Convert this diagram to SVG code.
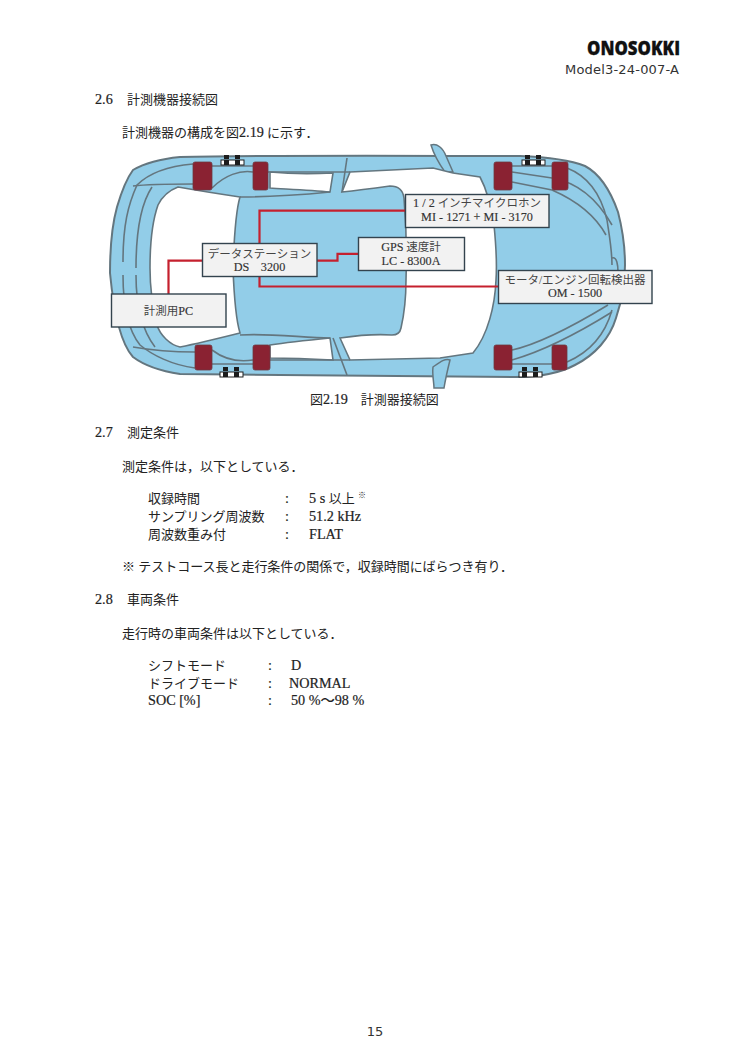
<svg xmlns="http://www.w3.org/2000/svg" width="750" height="1063" viewBox="0 0 750 1063">
<style>
text{font-family:"Liberation Serif","Noto Sans CJK JP",serif;font-size:13px;fill:#222}
.l{font-size:14.2px;stroke:#222;stroke-width:.2}
.box{fill:#f2f2f2;stroke:#33434e;stroke-width:1.4}
.lbl{font-size:11.5px;fill:#444;text-anchor:middle}
.m{font-size:12.2px;fill:#333;stroke:#333;stroke-width:.15}
.red{fill:none;stroke:#c5202e;stroke-width:2.2}
.ln{fill:none;stroke:#64767f;stroke-width:1.6}
.win{fill:#fff;stroke:#64767f;stroke-width:1.6}
.whl{fill:#8a2030;stroke:#6d3a42;stroke-width:.8}
.hub{fill:#fff;stroke:#222;stroke-width:1}
.dot{fill:#1a1a1a}
.mir{fill:#92cde8;stroke:#64767f;stroke-width:1.5}
.sans{font-family:"DejaVu Sans",sans-serif}
.logo{font-family:"Open Sans","DejaVu Sans",sans-serif;font-weight:800;font-size:19px;fill:#111;stroke:#111;stroke-width:.3}
</style>
<defs>
<filter id="soft" x="-5%" y="-5%" width="110%" height="110%"><feGaussianBlur stdDeviation="0.6"/></filter>
<g id="hubset"><rect class="hub" x="0" y="5" width="23" height="5"/><rect class="dot" x="3" y="0" width="5" height="4"/><rect class="dot" x="14" y="0" width="5" height="4"/><rect class="dot" x="3" y="5" width="5" height="5"/><rect class="dot" x="14" y="5" width="5" height="5"/></g>
</defs>

<g id="logo">
<text class="logo" x="587" y="55" textLength="93" lengthAdjust="spacingAndGlyphs">ONOSOKKI</text>
</g>
<text class="sans" x="565" y="74" style="font-size:13px;fill:#333" textLength="114">Model3-24-007-A</text>

<text class="l" x="95" y="104">2.6</text><text x="127" y="104">計測機器接続図</text>
<text x="122" y="137">計測機器の構成を図<tspan class="l">2.19</tspan> に示す．</text>

<g id="car" filter="url(#soft)">
<path d="M180 157 C260 155 440 156 520 156 C545 157 570 160 585 166 C602 175 612 195 618 212 C624 235 625 250 625 265 C625 285 622 300 616 318 C610 338 595 355 575 365 C560 373 540 377 515 377 L180 374 C160 371 145 366 133 357 C122 345 114 315 110 273 C110 245 112 225 117 207 C122 190 127 178 133 170 C145 163 160 159 180 157 Z" fill="#92cde8" stroke="#64767f" stroke-width="2"/>
<path class="mir" d="M431 145 C437 143 443 148 446 156 L453 172 L445 172 C440 165 434 155 431 145 Z"/>
<path class="win" d="M178 187 C195 190 220 194 240 197 C236 210 234 240 233 268 C234 295 236 320 240 333 C220 338 200 343 180 347 C170 345 160 335 157 325 C152 305 150 285 150 268 C150 245 152 222 158 205 C163 195 170 190 178 187 Z"/>
<path class="win" d="M350 172 L433 168 L453 173 L480 177 C487 190 491 205 494 225 C496 245 497 265 496 280 C495 305 488 335 473 353 L440 358 L350 360 L340 338 C360 335 378 334 392 335 C397 335 400 333 401 328 C404 315 406 300 406 280 C407 250 406 222 404 198 C403 190 398 186 390 186 C375 188 360 190 342 192 Z"/>
<path class="win" d="M270 172 C290 174 315 174 333 173 L330 192 C310 190 285 189 270 188 Z"/>
<path class="win" d="M270 345 C290 342 310 340 330 338 L333 360 C315 359 290 358 270 358 Z"/>
<path class="mir" d="M433 367 C440 362 445 358 450 360 C447 372 445 382 444 388 L434 388 C434 382 432 375 433 367 Z"/>
<path class="ln" d="M240 197 C275 197 310 194 330 192"/>
<path class="ln" d="M240 335 C270 333 305 338 330 338"/>
<path class="ln" d="M123 262 C123 225 128 205 137 185 C150 172 170 166 193 164"/>
<path class="ln" d="M136 268 C136 235 140 205 152 187"/>
<path class="ln" d="M133 186 C150 184 175 184 193 184"/>
<path class="ln" d="M123 275 C123 305 128 330 140 345 C152 355 172 365 195 368"/>
<path class="ln" d="M136 275 C136 305 142 330 155 347"/>
<path class="ln" d="M133 347 C150 350 175 352 195 352"/>
<path class="ln" d="M347 158 L342 192"/>
<path class="ln" d="M333 338 L347 375"/>
<path class="ln" d="M268 172 L350 172"/>
<path class="ln" d="M268 360 L350 360"/>
<path class="ln" d="M212 166 L253 166 M212 188 C225 175 240 170 253 172"/>
<path class="ln" d="M212 350 C225 360 240 362 253 360 M212 364 L253 364"/>
<path class="ln" d="M512 166 L552 166 M512 172 L552 178 C575 182 595 195 612 225"/>
<path class="ln" d="M512 182 L552 190 C575 200 595 215 606 235"/>
<path class="ln" d="M567 168 C585 175 600 190 607 220 C610 240 612 250 612 265"/>
<path class="ln" d="M512 350 C535 345 570 328 608 305"/>
<path class="ln" d="M512 360 C540 352 575 335 612 312 M512 364 L552 364"/>
<path class="ln" d="M567 362 C590 352 605 335 612 310"/>
<path class="ln" d="M612 258 C617 256 618 266 618 272"/>
<g id="wheels">
<rect class="whl" x="193" y="162" width="19" height="28" rx="2"/>
<rect class="whl" x="253" y="162" width="15" height="28" rx="2"/>
<rect class="whl" x="195" y="345" width="17" height="25" rx="2"/>
<rect class="whl" x="253" y="345" width="17" height="25" rx="2"/>
<rect class="whl" x="494" y="162" width="18" height="28" rx="2"/>
<rect class="whl" x="552" y="162" width="16" height="28" rx="2"/>
<rect class="whl" x="494" y="345" width="18" height="25" rx="2"/>
<rect class="whl" x="552" y="345" width="15" height="25" rx="2"/>
</g>
<use href="#hubset" x="221" y="155"/>
<use href="#hubset" x="522" y="155"/>
<use href="#hubset" x="220" y="367"/>
<use href="#hubset" x="519" y="367"/>
</g>

<g id="connectors">
<path class="red" d="M168.500 294V260.700H202"/>
<path class="red" d="M317 260.700H337.500V253.800H358"/>
<path class="red" d="M259.500 243V210.700H405"/>
<path class="red" d="M259.500 276V286.500H498"/>
</g>

<g id="node-pc"><rect class="box" x="111.500" y="294" width="114.500" height="33"/><text class="lbl" x="168.500" y="315">計測用<tspan class="m">PC</tspan></text></g>
<g id="node-ds"><rect class="box" x="202.500" y="243.500" width="114.500" height="33"/><text class="lbl" x="259.500" y="258">データステーション</text><text class="lbl" x="259.500" y="271"><tspan class="m">DS</tspan>　<tspan class="m">3200</tspan></text></g>
<g id="node-gps"><rect class="box" x="358.500" y="237.500" width="106" height="33"/><text class="lbl" x="411" y="251"><tspan class="m">GPS</tspan> 速度計</text><text class="lbl" x="411" y="265"><tspan class="m">LC - 8300A</tspan></text></g>
<g id="node-mic"><rect class="box" x="405.500" y="194.500" width="143.500" height="33"/><text class="lbl" x="477" y="207"><tspan class="m">1 / 2</tspan> インチマイクロホン</text><text class="lbl" x="477" y="221"><tspan class="m">MI - 1271 + MI - 3170</tspan></text></g>
<g id="node-om"><rect class="box" x="498.500" y="270.500" width="153.500" height="33"/><text class="lbl" x="575" y="284">モータ/エンジン回転検出器</text><text class="lbl" x="575" y="297"><tspan class="m">OM - 1500</tspan></text></g>

<text x="310" y="404">図<tspan class="l">2.19</tspan>　計測器接続図</text>
<text class="l" x="95" y="437">2.7</text><text x="127" y="437">測定条件</text>
<text x="122" y="471">測定条件は，以下としている．</text>
<text x="148" y="503">収録時間</text><text class="l" x="285" y="503">:</text><text class="l" x="309" y="503">5 s <tspan style="font-size:13px;stroke:none">以上</tspan></text><text x="358" y="498" style="font-family:'Noto Sans CJK JP',sans-serif;font-size:8px;fill:#222">※</text>
<text x="148" y="521">サンプリング周波数</text><text class="l" x="285" y="521">:</text><text class="l" x="309" y="521">51.2 kHz</text>
<text x="148" y="539">周波数重み付</text><text class="l" x="285" y="539">:</text><text class="l" x="309" y="539">FLAT</text>
<text x="122" y="571" textLength="391">※ テストコース長と走行条件の関係で，収録時間にばらつき有り．</text>
<text class="l" x="95" y="604">2.8</text><text x="127" y="604">車両条件</text>
<text x="122" y="638">走行時の車両条件は以下としている．</text>
<text x="148" y="670">シフトモード</text><text class="l" x="268" y="670">:</text><text class="l" x="291" y="670">D</text>
<text x="148" y="688">ドライブモード</text><text class="l" x="268" y="688">:</text><text class="l" x="289" y="688">NORMAL</text>
<text class="l" x="148" y="705">SOC [%]</text><text class="l" x="268" y="705">:</text><text class="l" x="291" y="705">50 %～98 %</text>
<text class="sans" x="375" y="1036" text-anchor="middle" style="font-size:13px;fill:#333">15</text>
</svg>
